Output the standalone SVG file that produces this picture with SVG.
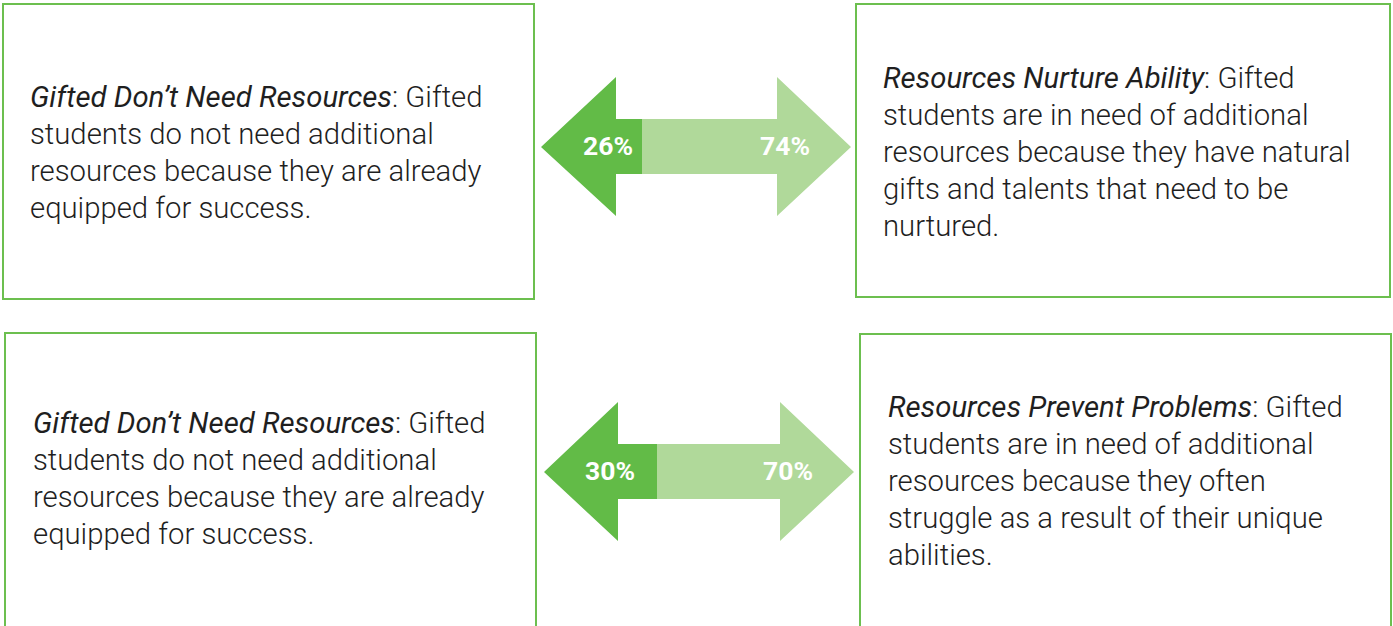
<svg xmlns="http://www.w3.org/2000/svg" width="1393" height="626" viewBox="0 0 1393 626">
<style>
.box{fill:#fff;stroke:#6cbf4f;stroke-width:2}
.t{font-family:Roboto,"Liberation Sans",sans-serif;font-size:29.3px;font-weight:300;fill:#1f1f1f}
.i{font-style:italic;font-weight:400}
.dk{fill:#62bb47}
.lt{fill:#b0d99a}
.pct{font-family:Roboto,"Liberation Sans",sans-serif;font-size:26.5px;font-weight:700;fill:#fff;text-anchor:middle}
</style>
<rect width="1393" height="626" fill="#fff"/>
<g id="node-top-left">
<rect class="box" x="3" y="4" width="531" height="295"/>
<text class="t" x="30" y="107"><tspan class="i">Gifted Don’t Need Resources</tspan>: Gifted</text>
<text class="t" x="30" y="144">students do not need additional</text>
<text class="t" x="30" y="181">resources because they are already</text>
<text class="t" x="30" y="218">equipped for success.</text>
</g>
<g id="node-top-right">
<rect class="box" x="856" y="4" width="534" height="293"/>
<text class="t" x="883" y="88"><tspan class="i">Resources Nurture Ability</tspan>: Gifted</text>
<text class="t" x="883" y="125">students are in need of additional</text>
<text class="t" x="883" y="162">resources because they have natural</text>
<text class="t" x="883" y="199">gifts and talents that need to be</text>
<text class="t" x="883" y="236">nurtured.</text>
</g>
<g id="node-bottom-left">
<rect class="box" x="5" y="333" width="531" height="300"/>
<text class="t" x="33" y="433"><tspan class="i">Gifted Don’t Need Resources</tspan>: Gifted</text>
<text class="t" x="33" y="470">students do not need additional</text>
<text class="t" x="33" y="507">resources because they are already</text>
<text class="t" x="33" y="544">equipped for success.</text>
</g>
<g id="node-bottom-right">
<rect class="box" x="860" y="334" width="531" height="300"/>
<text class="t" x="888" y="417"><tspan class="i">Resources Prevent Problems</tspan>: Gifted</text>
<text class="t" x="888" y="454">students are in need of additional</text>
<text class="t" x="888" y="491">resources because they often</text>
<text class="t" x="888" y="528">struggle as a result of their unique</text>
<text class="t" x="888" y="565">abilities.</text>
</g>
<g id="connectors">
<g id="arrow-1">
<path class="lt" d="M642 119 H777 V77 L851 147 L777 216 V174 H642 Z"/>
<path class="dk" d="M642 119 H616 V77 L541 147 L616 216 V174 H642 Z"/>
<text class="pct" x="608" y="155">26%</text>
<text class="pct" x="785" y="155">74%</text>
</g>
<g id="arrow-2">
<path class="lt" d="M657 444 H780 V402 L854 472 L780 541 V499 H657 Z"/>
<path class="dk" d="M657 444 H618 V402 L544 472 L618 541 V499 H657 Z"/>
<text class="pct" x="610" y="480">30%</text>
<text class="pct" x="788" y="480">70%</text>
</g>
</g>
</svg>
